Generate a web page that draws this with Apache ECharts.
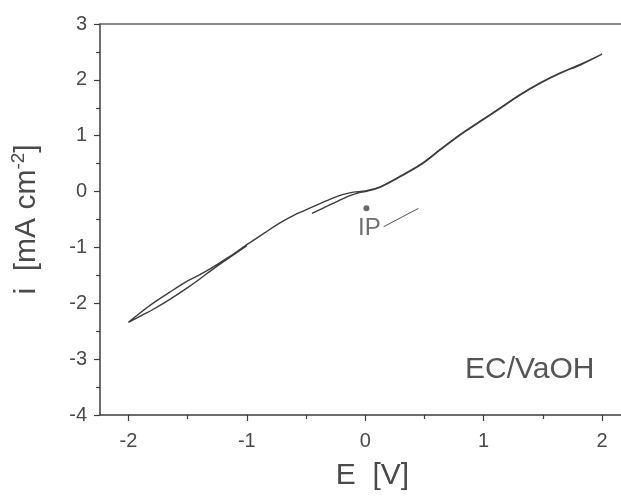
<!DOCTYPE html>
<html>
<head>
<meta charset="utf-8">
<script src="https://cdn.jsdelivr.net/npm/echarts@6/dist/echarts.min.js"></script>
<style>
  html, body { margin: 0; padding: 0; background: #fff; }
  #chart { width: 621px; height: 498px; }
</style>
</head>
<body>
<div id="chart"></div>
<script>
// Cyclic voltammogram, E [V] vs i [mA cm^-2]
// Scan path: forward sweep (lower trace) up to +2 V, reverse sweep back to -2 V,
// then the start of the next forward sweep.
const scanE = [-0.45, -0.30, -0.15, -0.05, 0.00, 0.13, 0.30, 0.47, 0.63, 0.80, 0.97, 1.14, 1.31, 1.48, 1.65, 1.82, 2.00,
               1.82, 1.65, 1.48, 1.31, 1.14, 0.97, 0.80, 0.63, 0.47, 0.30, 0.13, 0.00, -0.10, -0.20, -0.30, -0.44, -0.60, -0.72, -0.85, -1.00, -1.15, -1.30, -1.40, -1.50, -1.65, -1.80, -1.90, -2.00,
               -1.90, -1.80, -1.65, -1.50, -1.40, -1.30, -1.20, -1.00];
const scanI = [-0.39, -0.24, -0.09, -0.02, 0.00, 0.08, 0.27, 0.48, 0.74, 1.01, 1.25, 1.49, 1.73, 1.94, 2.12, 2.27, 2.46,
               2.28, 2.13, 1.95, 1.74, 1.50, 1.26, 1.02, 0.75, 0.49, 0.28, 0.09, 0.01, -0.01, -0.06, -0.14, -0.27, -0.42, -0.56, -0.74, -0.95, -1.17, -1.37, -1.49, -1.60, -1.80, -2.01, -2.17, -2.34,
               -2.23, -2.12, -1.93, -1.72, -1.57, -1.41, -1.26, -0.97];

// IP marker and its leader line
const ipPoint = [0.01, -0.30];
const leaderE = [0.155, 0.45];
const leaderI = [-0.63, -0.30];

// Axis ticks
const xMajorTicks = [-2, -1, 0, 1, 2];
const xMinorTicks = [-1.5, -0.5, 0.5, 1.5];
const xRange = [-2.24, 2.16];
const yRange = [-4, 3];

const ink = '#3c3c3c';
const textInk = '#4a4a4a';
const font = 'Liberation Sans, Arial, sans-serif';

const scanData = scanE.map((e, k) => [e, scanI[k]]);
const leaderData = leaderE.map((e, k) => [e, leaderI[k]]);

const chart = echarts.init(document.getElementById('chart'), null, { renderer: 'canvas' });
chart.setOption({
  animation: false,
  backgroundColor: '#ffffff',
  grid: { left: 100, right: 0, top: 24, bottom: 83 },
  xAxis: [
    {
      type: 'value', min: xRange[0], max: xRange[1],
      name: 'E  [V]', nameLocation: 'middle', nameGap: 46,
      nameTextStyle: { fontFamily: font, fontSize: 30, color: textInk, padding: [0, 0, 0, 24] },
      axisLine: { show: true, onZero: false, lineStyle: { color: ink, width: 1.5 } },
      axisTick: { show: true, customValues: xMajorTicks, length: 6, lineStyle: { color: ink, width: 1.2 } },
      axisLabel: { customValues: xMajorTicks, margin: 16, fontFamily: font, fontSize: 20, color: textInk },
      splitLine: { show: false }
    },
    {
      type: 'value', min: xRange[0], max: xRange[1], position: 'bottom',
      axisLine: { show: false, onZero: false },
      axisTick: { show: true, customValues: xMinorTicks, length: 4, lineStyle: { color: ink, width: 1.2 } },
      axisLabel: { show: false, customValues: xMinorTicks },
      splitLine: { show: false }
    },
    {
      // top frame line
      type: 'value', min: xRange[0], max: xRange[1], position: 'top',
      axisLine: { show: true, onZero: false, lineStyle: { color: '#666', width: 1.5 } },
      axisTick: { show: false },
      axisLabel: { show: false },
      splitLine: { show: false }
    }
  ],
  yAxis: {
    type: 'value', min: yRange[0], max: yRange[1], interval: 1,
    name: '{t|i  [mA cm}{s|-2}{t|]}', nameLocation: 'middle', nameGap: 58,
    nameTextStyle: {
      fontFamily: font, fontSize: 30, color: textInk,
      rich: {
        t: { fontFamily: font, fontSize: 30, color: textInk, verticalAlign: 'bottom' },
        s: { fontFamily: font, fontSize: 19, color: textInk, verticalAlign: 'top', padding: [0, 0, 14, 0] }
      }
    },
    axisLine: { show: true, onZero: false, lineStyle: { color: ink, width: 1.5 } },
    axisTick: { show: true, length: 6, lineStyle: { color: ink, width: 1.2 } },
    minorTick: { show: true, splitNumber: 2, length: 4, lineStyle: { color: ink, width: 1.2 } },
    axisLabel: { margin: 13, fontFamily: font, fontSize: 20, color: textInk },
    splitLine: { show: false },
    minorSplitLine: { show: false }
  },
  series: [
    {
      type: 'line', data: scanData, showSymbol: false, smooth: 0.3,
      lineStyle: { color: ink, width: 1.4 }, z: 3
    },
    {
      type: 'line', data: leaderData, showSymbol: false,
      lineStyle: { color: '#555', width: 1 }, z: 2
    },
    {
      type: 'scatter', data: [ipPoint], symbolSize: 6,
      itemStyle: { color: '#444' },
      label: {
        show: true, formatter: 'IP', position: 'bottom', distance: 5, offset: [3, 0],
        fontFamily: font, fontSize: 24, color: textInk
      },
      z: 4
    }
  ],
  graphic: [
    {
      type: 'text', left: 465, top: 355,
      style: { text: 'EC/VaOH', font: '30px ' + font, fill: '#555' }
    }
  ]
});
</script>
</body>
</html>
